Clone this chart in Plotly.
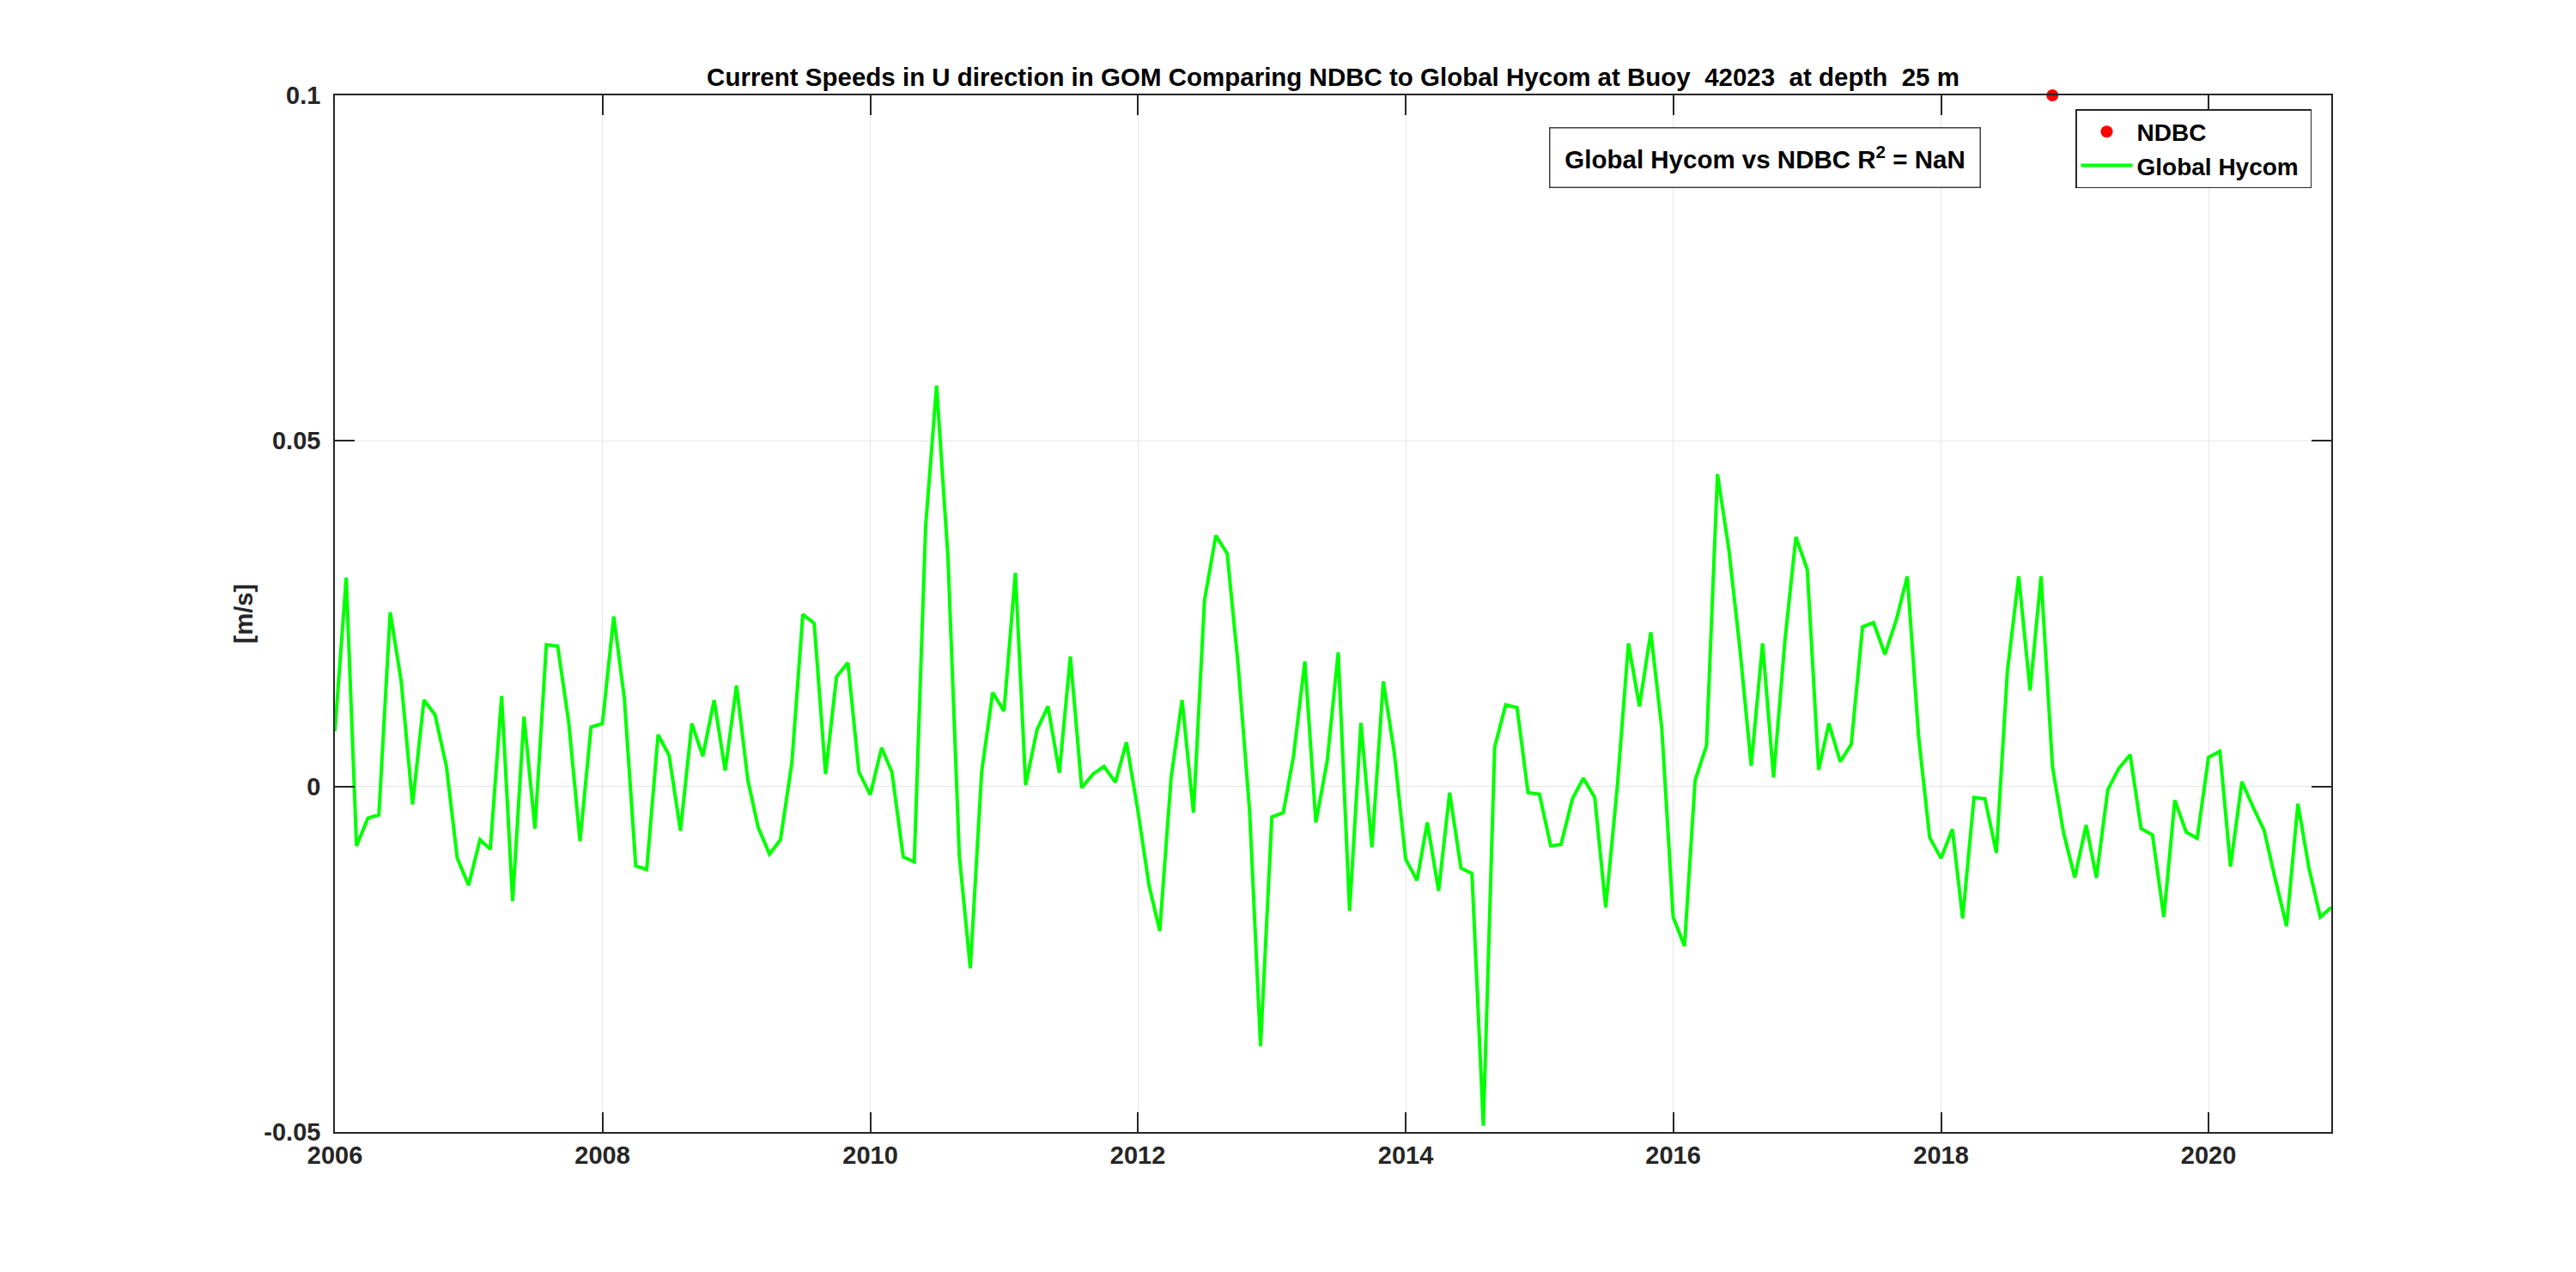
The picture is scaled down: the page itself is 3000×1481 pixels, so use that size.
import pandas as pd
import plotly.graph_objects as go

# ---------------- data ----------------
start_month = "2006-01-01"

hycom_2006 = [0.0080, 0.0302, -0.0086, -0.0046, -0.0041, 0.0252, 0.0152, -0.0026, 0.0125, 0.0104, 0.0030, -0.0104]
hycom_2007 = [-0.0143, -0.0077, -0.0091, 0.0131, -0.0166, 0.0101, -0.0061, 0.0205, 0.0203, 0.0093, -0.0079, 0.0086]
hycom_2008 = [0.0091, 0.0246, 0.0127, -0.0115, -0.0120, 0.0075, 0.0045, -0.0064, 0.0091, 0.0044, 0.0125, 0.0023]
hycom_2009 = [0.0146, 0.0009, -0.0059, -0.0098, -0.0077, 0.0034, 0.0249, 0.0236, 0.0018, 0.0159, 0.0179, 0.0021]
hycom_2010 = [-0.0012, 0.0056, 0.0021, -0.0102, -0.0109, 0.0376, 0.0580, 0.0332, -0.0100, -0.0263, 0.0021, 0.0136]
hycom_2011 = [0.0109, 0.0309, 0.0002, 0.0082, 0.0116, 0.0020, 0.0188, -0.0002, 0.0018, 0.0029, 0.0006, 0.0064]
hycom_2012 = [-0.0034, -0.0144, -0.0209, 0.0013, 0.0125, -0.0038, 0.0269, 0.0363, 0.0337, 0.0175, -0.0034, -0.0376]
hycom_2013 = [-0.0044, -0.0038, 0.0044, 0.0181, -0.0052, 0.0037, 0.0194, -0.0180, 0.0092, -0.0088, 0.0152, 0.0049]
hycom_2014 = [-0.0105, -0.0136, -0.0052, -0.0151, -0.0009, -0.0118, -0.0126, -0.0491, 0.0057, 0.0118, 0.0114, -0.0009]
hycom_2015 = [-0.0011, -0.0086, -0.0084, -0.0018, 0.0012, -0.0016, -0.0175, -0.0004, 0.0207, 0.0116, 0.0223, 0.0084]
hycom_2016 = [-0.0189, -0.0231, 0.0009, 0.0059, 0.0452, 0.0343, 0.0200, 0.0030, 0.0207, 0.0013, 0.0211, 0.0361]
hycom_2017 = [0.0314, 0.0024, 0.0091, 0.0036, 0.0061, 0.0231, 0.0237, 0.0191, 0.0241, 0.0304, 0.0071, -0.0074]
hycom_2018 = [-0.0104, -0.0062, -0.0191, -0.0016, -0.0018, -0.0096, 0.0166, 0.0304, 0.0139, 0.0304, 0.0029, -0.0066]
hycom_2019 = [-0.0132, -0.0056, -0.0132, -0.0005, 0.0026, 0.0046, -0.0061, -0.0070, -0.0189, -0.0020, -0.0066, -0.0075]
hycom_2020 = [0.0042, 0.0051, -0.0116, 0.0007, -0.0029, -0.0064, -0.0134, -0.0202, -0.0025, -0.0118, -0.0189, -0.0175]

ndbc_dates = ["2018-11-01"]
ndbc_values = [0.1]

ytick_vals = [-0.05, 0, 0.05, 0.1]
ytick_text = ["-0.05", "0", "0.05", "0.1"]
x_range = ["2006-01-01", "2020-12-01"]

title_text = "Current Speeds in U direction in GOM Comparing NDBC to Global Hycom at Buoy  42023  at depth  25 m"
r2_text = "Global Hycom vs NDBC R<sup>2</sup> = NaN"

hycom_values = (hycom_2006 + hycom_2007 + hycom_2008 + hycom_2009 + hycom_2010 + hycom_2011 +
                hycom_2012 + hycom_2013 + hycom_2014 + hycom_2015 + hycom_2016 + hycom_2017 +
                hycom_2018 + hycom_2019 + hycom_2020)
hycom_dates = pd.date_range(start_month, periods=len(hycom_values), freq="MS")

# ---------------- figure ----------------
FONT = "Liberation Sans, Arial, Helvetica, sans-serif"
AX = "#262626"

# page body adds an ~8 px offset; target plot area: x 390..2715, y 111..1318
L, T, PW, PH = 382, 103, 2325, 1207

fig = go.Figure()
fig.add_trace(go.Scatter(
    x=ndbc_dates, y=ndbc_values, mode="markers", name="NDBC",
    marker=dict(color="#ff0000", size=14), cliponaxis=False,
))
fig.add_trace(go.Scatter(
    x=hycom_dates, y=hycom_values, mode="lines", name="Global Hycom ",
    line=dict(color="#00ff00", width=4),
))

fig.update_layout(
    width=3000, height=1481, autosize=False,
    margin=dict(l=L, r=3000 - L - PW, t=T, b=1481 - T - PH, pad=0),
    paper_bgcolor="white", plot_bgcolor="white",
    font=dict(family=FONT, size=29, color=AX, weight="bold"),
    title=dict(text=title_text, x=0.5, xref="paper", xanchor="center",
               y=1 - 82 / 1481, yref="container", yanchor="middle",
               font=dict(family=FONT, size=29.5, color="black", weight="bold")),
    legend=dict(x=(2417 - 390) / PW, y=(1318 - 127) / PH, xanchor="left", yanchor="top",
                bgcolor="white", bordercolor=AX, borderwidth=1.5,
                font=dict(family=FONT, size=28, color="black", weight="bold"),
                itemwidth=60, tracegroupgap=0),
    showlegend=True,
)

fig.update_xaxes(
    range=x_range, type="date", tick0="2006-01-01", dtick="M24", tickformat="%Y",
    showgrid=True, gridcolor="#e6e6e6", gridwidth=1,
    showline=True, linecolor=AX, linewidth=1.5, mirror="allticks",
    ticks="inside", ticklen=23, tickwidth=1.5, tickcolor=AX,
    tickfont=dict(family=FONT, size=29, color=AX, weight="bold"),
    ticklabelstandoff=0, zeroline=False,
)
fig.update_yaxes(
    range=[-0.05, 0.1], tickvals=ytick_vals, ticktext=ytick_text,
    showgrid=True, gridcolor="#e6e6e6", gridwidth=1,
    showline=True, linecolor=AX, linewidth=1.5, mirror="allticks",
    ticks="inside", ticklen=23, tickwidth=1.5, tickcolor=AX,
    tickfont=dict(family=FONT, size=29, color=AX, weight="bold"),
    ticklabelstandoff=9, zeroline=False,
    title=dict(text="[m/s]", standoff=4,
               font=dict(family=FONT, size=29, color=AX, weight="bold")),
)

fig.add_annotation(
    text=r2_text, xref="paper", yref="paper",
    x=(2055 - 390) / PW, y=(1318 - 183) / PH,
    xanchor="center", yanchor="middle", showarrow=False,
    width=488, height=56, borderpad=6,
    bordercolor="#404040", borderwidth=1.5, bgcolor="white",
    font=dict(family=FONT, size=29.5, color="black", weight="bold"),
)

fig.write_html("out.html")
